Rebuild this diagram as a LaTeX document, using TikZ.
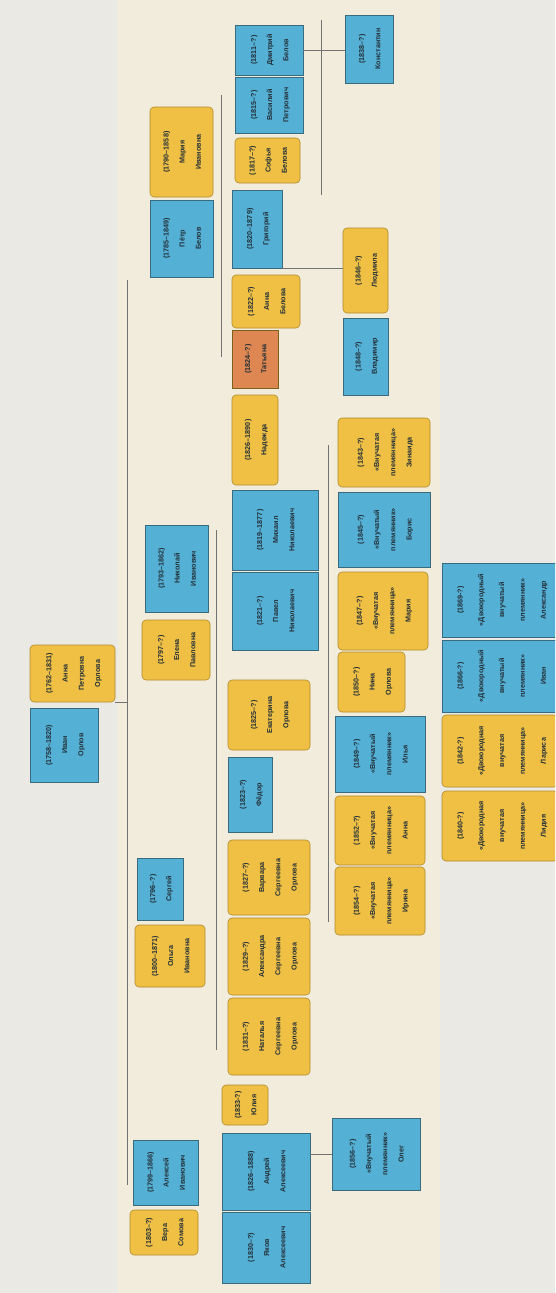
\documentclass[tikz,border=0pt]{standalone}
\usepackage{fontspec}
\setmainfont{Liberation Sans}

\definecolor{paper}{HTML}{EAE9E4}
\definecolor{cream}{HTML}{F2ECDC}
\definecolor{maleblue}{HTML}{55B0D6}
\definecolor{maleedge}{HTML}{3A6A7D}
\definecolor{femyellow}{HTML}{F0C045}
\definecolor{femedge}{HTML}{B08A2A}
\definecolor{rust}{HTML}{DE8752}
\definecolor{ink}{HTML}{233038}

% text of a box, turned to read upwards
\newcommand{\vt}[1]{\rotatebox{90}{\begin{tabular}{@{}c@{}}#1\end{tabular}}}

\begin{document}
\begin{tikzpicture}[
    x=1pt, y=-1pt,
    person/.style={inner sep=0pt, line width=0.6pt, text=ink,
      font=\fontsize{7.2}{9}\selectfont\bfseries\def\arraystretch{1.8}},
    male/.style={person, fill=maleblue, draw=maleedge},
    female/.style={person, fill=femyellow, draw=femedge, rounded corners=4pt},
    other/.style={person, fill=rust, draw=femedge!70!black},
    dims/.style 2 args={minimum width=#1pt, minimum height=#2pt},
    legend/.style={font=\fontsize{7.2}{8}\selectfont\bfseries\def\arraystretch{2.6}},
    link/.style={draw=black!55, line width=0.8pt}
  ]
  \clip (0,0) rectangle (555,1293);
  \fill[paper] (0,0) rectangle (555,1293);
  \fill[cream] (118,0) rectangle (440,1293);

  % --- first generation ---
  \node[female, dims={85}{57}] (r1) at (72.5,673.5) {\vt{(1762--1831)\\Анна\\Петровна\\Орлова}};
  \node[male, dims={68}{74}] (r2) at (64,745) {\vt{(1758--1820)\\Иван\\Орлов}};

  % --- second generation ---
  \node[female, dims={63}{90}] (a1) at (181.5,152) {\vt{(1790--1858)\\Мария\\Ивановна}};
  \node[male, dims={63}{77}] (a2) at (181.5,238.5) {\vt{(1785--1849)\\Пётр\\Белов}};
  \node[male, dims={63}{87}] (a3) at (176.5,568.5) {\vt{(1793--1862)\\Николай\\Иванович}};
  \node[female, dims={68}{60}] (a4) at (176,650) {\vt{(1797--?)\\Елена\\Павловна}};
  \node[male, dims={46}{62}] (a5) at (160,889) {\vt{(1796--?)\\Сергей}};
  \node[female, dims={70}{62}] (a6) at (170,956) {\vt{(1800--1871)\\Ольга\\Ивановна}};
  \node[male, dims={65}{65}] (a7) at (165.5,1172.5) {\vt{(1799--1866)\\Алексей\\Иванович}};
  \node[female, dims={68}{45}] (a8) at (164,1232.5) {\vt{(1803--?)\\Вера\\Сомова}};

  % --- third generation ---
  \node[male, dims={68}{50}] (b1) at (269,50) {\vt{(1811--?)\\Дмитрий\\Белов}};
  \node[male, dims={68}{56}] (b2) at (269,105) {\vt{(1815--?)\\Василий\\Петрович}};
  \node[female, dims={65}{45}] (b3) at (267.5,160.5) {\vt{(1817--?)\\Софья\\Белова}};
  \node[male, dims={50}{78}] (b4) at (257,229) {\vt{(1820--1879)\\Григорий}};
  \node[female, dims={68}{53}] (b5) at (266,301.5) {\vt{(1822--?)\\Анна\\Белова}};
  \node[other, dims={46}{58}] (b6) at (255,359) {\vt{(1824--?)\\Татьяна}};
  \node[female, dims={46}{90}] (b7) at (255,440) {\vt{(1826--1890)\\Надежда}};
  \node[male, dims={86}{80}] (b8) at (275,530) {\vt{(1819--1877)\\Михаил\\Николаевич}};
  \node[male, dims={86}{78}] (b9) at (275,611) {\vt{(1821--?)\\Павел\\Николаевич}};
  \node[female, dims={82}{70}] (b10) at (269,715) {\vt{(1825--?)\\Екатерина\\Орлова}};
  \node[male, dims={44}{75}] (b11) at (250,794.5) {\vt{(1823--?)\\Фёдор}};
  \node[female, dims={82}{75}] (b12) at (269,877.5) {\vt{(1827--?)\\Варвара\\Сергеевна\\Орлова}};
  \node[female, dims={82}{77}] (b13) at (269,956.5) {\vt{(1829--?)\\Александра\\Сергеевна\\Орлова}};
  \node[female, dims={82}{77}] (b14) at (269,1036.5) {\vt{(1831--?)\\Наталья\\Сергеевна\\Орлова}};
  \node[female, dims={46}{40}] (b15) at (245,1105) {\vt{(1833-?)\\Юлия}};
  \node[male, dims={88}{77}] (b16) at (266,1171.5) {\vt{(1826--1888)\\Андрей\\Алексеевич}};
  \node[male, dims={88}{71}] (b17) at (266,1247.5) {\vt{(1830--?)\\Яков\\Алексеевич}};

  % --- fourth generation ---
  \node[male, dims={48}{68}] (c1) at (369,49) {\vt{(1838--?)\\Константин}};
  \node[female, dims={45}{85}] (c2) at (365.5,270.5) {\vt{(1846--?)\\Людмила}};
  \node[male, dims={45}{77}] (c3) at (365.5,356.5) {\vt{(1848--?)\\Владимир}};
  \node[female, dims={92}{69}] (c4) at (384,452.5) {\vt{(1843--?)\\«Внучатая\\племянница»\\Зинаида}};
  \node[male, dims={92}{75}] (c5) at (384,529.5) {\vt{(1845--?)\\«Внучатый\\племянник»\\Борис}};
  \node[female, dims={90}{78}] (c6) at (383,611) {\vt{(1847--?)\\«Внучатая\\племянница»\\Мария}};
  \node[female, dims={67}{60}] (c7) at (371.5,682) {\vt{(1850--?)\\Нина\\Орлова}};
  \node[male, dims={90}{76}] (c8) at (380,754) {\vt{(1849--?)\\«Внучатый\\племянник»\\Илья}};
  \node[female, dims={90}{69}] (c9) at (380,830.5) {\vt{(1852--?)\\«Внучатая\\племянница»\\Анна}};
  \node[female, dims={90}{68}] (c10) at (380,901) {\vt{(1854--?)\\«Внучатая\\племянница»\\Ирина}};
  \node[male, dims={88}{72}] (c11) at (376,1154) {\vt{(1856--?)\\«Внучатый\\племянник»\\Олег}};

  % --- fifth generation ---
  \node[male, legend, dims={116}{74}] (d1) at (500,600) {\vt{(1869-?)\\«Двоюродный\\внучатый\\племянник»\\Александр}};
  \node[male, legend, dims={116}{72}] (d2) at (500,676) {\vt{(1866-?)\\«Двоюродный\\внучатый\\племянник»\\Иван}};
  \node[female, legend, dims={116}{72}] (d3) at (500,751) {\vt{(1842-?)\\«Двоюродная\\внучатая\\племянница»\\Лариса}};
  \node[female, legend, dims={116}{70}] (d4) at (500,826) {\vt{(1840-?)\\«Двоюродная\\внучатая\\племянница»\\Лидия}};

  % trunk lines
  \coordinate (t1a) at (127,280);
  \coordinate (t1b) at (127,1185);
  \coordinate (t2a) at (221,95);
  \coordinate (t2b) at (221,357);
  \coordinate (t3a) at (216,530);
  \coordinate (t3b) at (216,1050);
  \coordinate (t4a) at (321,20);
  \coordinate (t4b) at (321,195);
  \coordinate (t5a) at (328,445);
  \coordinate (t5b) at (328,922);

  \draw[link] (t1a) -- (t1b);
  \draw[link] (r1.south east) -- (r1.south east -| t1a);
  \draw[link] (t2a) -- (t2b);
  \draw[link] (t3a) -- (t3b);
  \draw[link] (t4a) -- (t4b);
  \draw[link] (b1.east) -- (b1.east -| c1.west);
  \draw[link] (b4.south east) -- (b4.south east -| c2.west);
  \draw[link] (t5a) -- (t5b);
  \draw[link] (c11.west -| b16.east) -- (c11.west);
\end{tikzpicture}
\end{document}
